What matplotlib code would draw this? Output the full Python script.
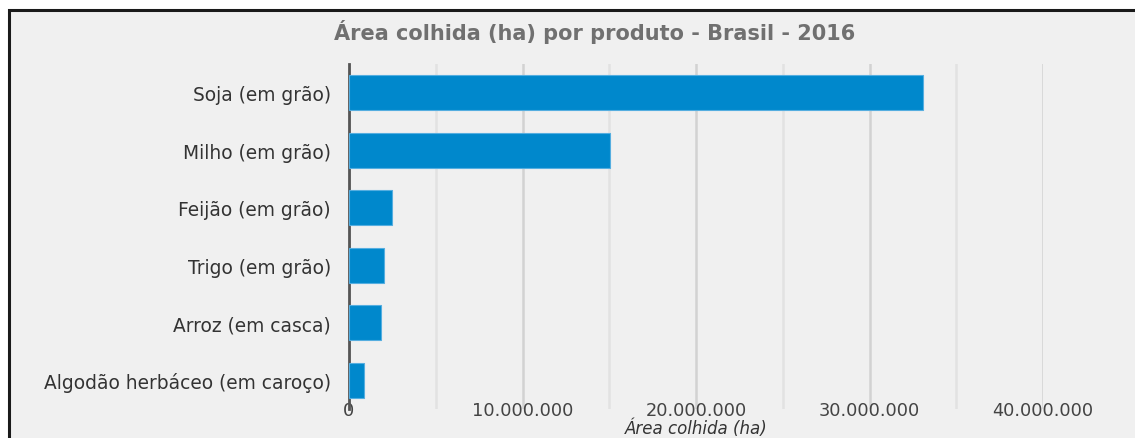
import numpy as np
import matplotlib.pyplot as plt
from matplotlib.patches import Rectangle
from matplotlib.ticker import FuncFormatter

produtos = [
    "Soja (em grão)",
    "Milho (em grão)",
    "Feijão (em grão)",
    "Trigo (em grão)",
    "Arroz (em casca)",
    "Algodão herbáceo (em caroço)",
]
area_colhida = [33080000, 15040000, 2480000, 2030000, 1860000, 880000]

plt.rcParams["font.family"] = ["DejaVu Sans"]

W, H = 1135, 439
fig = plt.figure(figsize=(W / 100, H / 100), dpi=100)
fig.patch.set_facecolor("white")

# panel frame
fig.patches.append(Rectangle((9 / W, -0.1), 1.2, 1 - 11 / H + 0.1,
                             transform=fig.transFigure, facecolor="#f0f0f0",
                             edgecolor="#1a1a1a", linewidth=2.2, zorder=-5))

ax = fig.add_axes([349 / W, 29 / H, (1043 - 349) / W, 345 / H])
ax.set_zorder(2)
ax.set_facecolor("none")

y = np.arange(len(produtos))
ax.barh(y, area_colhida, height=0.61, color="#0088cc",
        edgecolor="#55aee0", linewidth=0.8, zorder=3)

ax.set_ylim(len(produtos) - 0.5, -0.5)
ax.set_xlim(0, 40000000)
ax.set_yticks(y)
ax.set_yticklabels(produtos, fontsize=13.4, color="#333333")

ax.set_xticks(np.arange(0, 40000001, 10000000))
ax.set_xticks(np.arange(5000000, 40000000, 10000000), minor=True)
ax.xaxis.set_major_formatter(FuncFormatter(lambda v, p: f"{int(v):,}".replace(",", ".")))
ax.tick_params(axis="x", labelsize=12.8, colors="#444444", length=0, pad=-6)
ax.tick_params(axis="x", which="minor", length=0)
ax.tick_params(axis="y", length=0, pad=13)

ax.grid(axis="x", which="major", color="#d2d2d2", linewidth=1.8, zorder=0)
ax.grid(axis="x", which="minor", color="#e2e2e2", linewidth=1.8, zorder=0)
ax.grid(axis="y", visible=False)

for s in ["top", "right", "bottom"]:
    ax.spines[s].set_visible(False)
ax.spines["left"].set_color("#555555")
ax.spines["left"].set_linewidth(2)

ax.set_xlabel("Área colhida (ha)", fontsize=12, style="italic", color="#333333")
ax.xaxis.label.set_va("bottom")
ax.xaxis.set_label_coords(0.5, -28.5 / 345)

fig.text(595 / W, 1 - 32 / H, "Área colhida (ha) por produto - Brasil - 2016",
         ha="center", va="center", fontsize=15, fontweight="bold", color="#707070")

fig.savefig("out.png", dpi=100)
